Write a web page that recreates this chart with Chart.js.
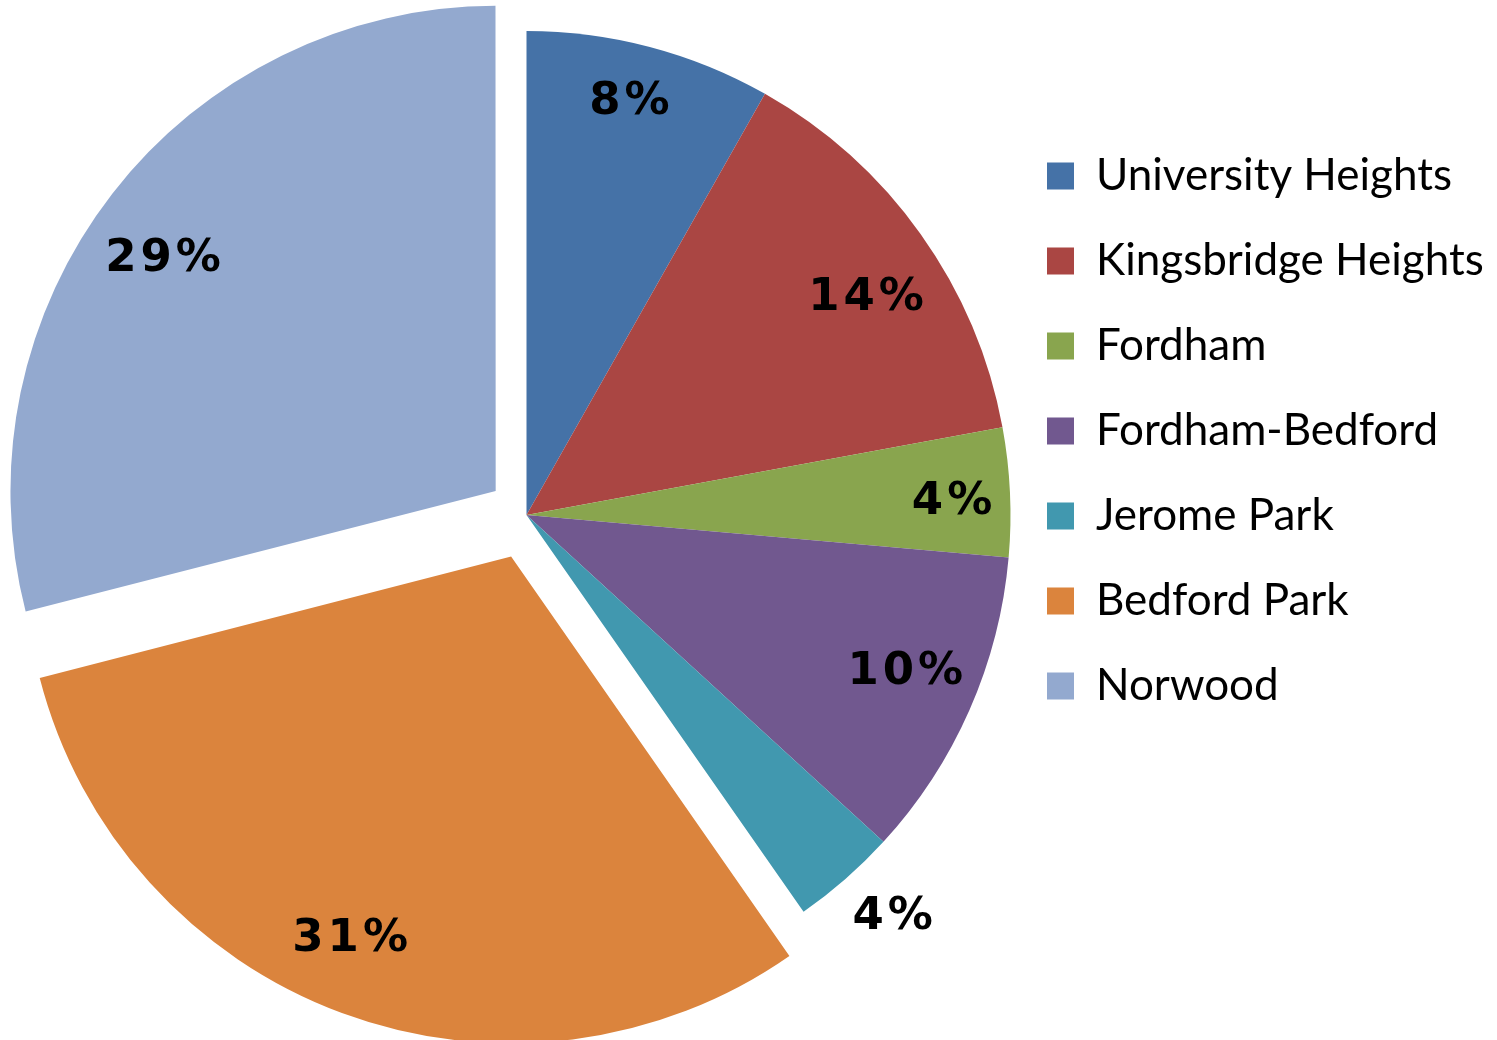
<!DOCTYPE html>
<html>
<head>
<meta charset="utf-8">
<script src="https://cdn.jsdelivr.net/npm/chart.js@4/dist/chart.umd.min.js"></script>
<style>
  html, body { margin: 0; padding: 0; background: #ffffff; }
  #wrap { width: 1497px; height: 1040px; }
</style>
</head>
<body>
<div id="wrap"><canvas id="c" width="1497" height="1040"></canvas></div>
<script>
// ---- data ----
const categories = ['University Heights', 'Kingsbridge Heights', 'Fordham', 'Fordham-Bedford', 'Jerome Park', 'Bedford Park', 'Norwood'];
const shares = [8.2, 13.9, 4.3, 10.4, 3.5, 30.7, 29.0];
const colors = ['#4572A7', '#AA4643', '#89A54E', '#71588F', '#4198AF', '#DB843D', '#93A9CF'];
const explode = [0, 0, 0, 0, 0, 177, 156];
// label placement (style): radial fraction and small angular nudge in degrees
const labelRadius = [0.888, 0.838, 0.88, 0.844, 1.117, 0.85, 0.843];
const labelNudge = [-0.9, 2.3, 0.3, -1.8, -1.4, 2.7, -2.4];

const legendFont = { family: 'Lato, "Open Sans", sans-serif', size: 44 };
const LEGEND_PAD = 41, BOX = 27;

// measure the legend so that its left edge sits where the reference has it
const mctx = document.createElement('canvas').getContext('2d');
mctx.font = legendFont.size + 'px ' + legendFont.family;
const maxText = Math.max(...categories.map(t => mctx.measureText(t).width));
const legendW = LEGEND_PAD + BOX + legendFont.size / 2 + maxText + 10;
const legendLeft = 1006;
const padRight = Math.max(0, 1497 - legendLeft - legendW);
const padLeft = 2 * 526.5 - (1497 - padRight - legendW);

const LABEL_SIZE = 45;
const pctLabels = {
  id: 'pctLabels',
  afterDatasetsDraw(chart) {
    const ctx = chart.ctx;
    const meta = chart.getDatasetMeta(0);
    const data = chart.data.datasets[0].data;
    const total = data.reduce((a, b) => a + b, 0);
    ctx.save();
    ctx.font = 'bold ' + LABEL_SIZE + 'px "DejaVu Sans", Lato, sans-serif';
    const ls = 4;
    try { ctx.letterSpacing = ls + 'px'; } catch (e) {}
    ctx.fillStyle = '#000000';
    ctx.textAlign = 'center';
    ctx.textBaseline = 'alphabetic';
    meta.data.forEach((arc, i) => {
      const p = arc.getProps(['x', 'y', 'startAngle', 'endAngle', 'outerRadius'], true);
      const mid = (p.startAngle + p.endAngle) / 2;
      const off = (arc.options.offset || 0) / 4;
      const ax = p.x + Math.cos(mid) * off;
      const ay = p.y + Math.sin(mid) * off;
      const a = mid + labelNudge[i] * Math.PI / 180;
      const d = p.outerRadius * labelRadius[i];
      const tx = ax + Math.cos(a) * d;
      const ty = ay + Math.sin(a) * d;
      const txt = Math.round(data[i] / total * 100 + 1e-9) + '%';
      ctx.fillText(txt, tx + ls / 2, ty + LABEL_SIZE * 0.729 / 2);
    });
    ctx.restore();
  }
};

new Chart(document.getElementById('c'), {
  type: 'pie',
  data: {
    labels: categories,
    datasets: [{
      data: shares,
      backgroundColor: colors,
      borderWidth: 0,
      offset: explode,
      radius: 484
    }]
  },
  options: {
    responsive: false,
    animation: false,
    radius: 484,
    layout: { padding: { left: padLeft, right: padRight, top: 0, bottom: 10 } },
    plugins: {
      tooltip: { enabled: false },
      legend: {
        position: 'right',
        align: 'start',
        title: { display: true, text: '', font: { size: 10, lineHeight: 1 }, padding: { top: 103, bottom: 0 } },
        labels: {
          boxWidth: BOX,
          boxHeight: BOX,
          padding: LEGEND_PAD,
          color: '#000000',
          font: legendFont
        }
      }
    }
  },
  plugins: [pctLabels]
});
</script>
</body>
</html>
